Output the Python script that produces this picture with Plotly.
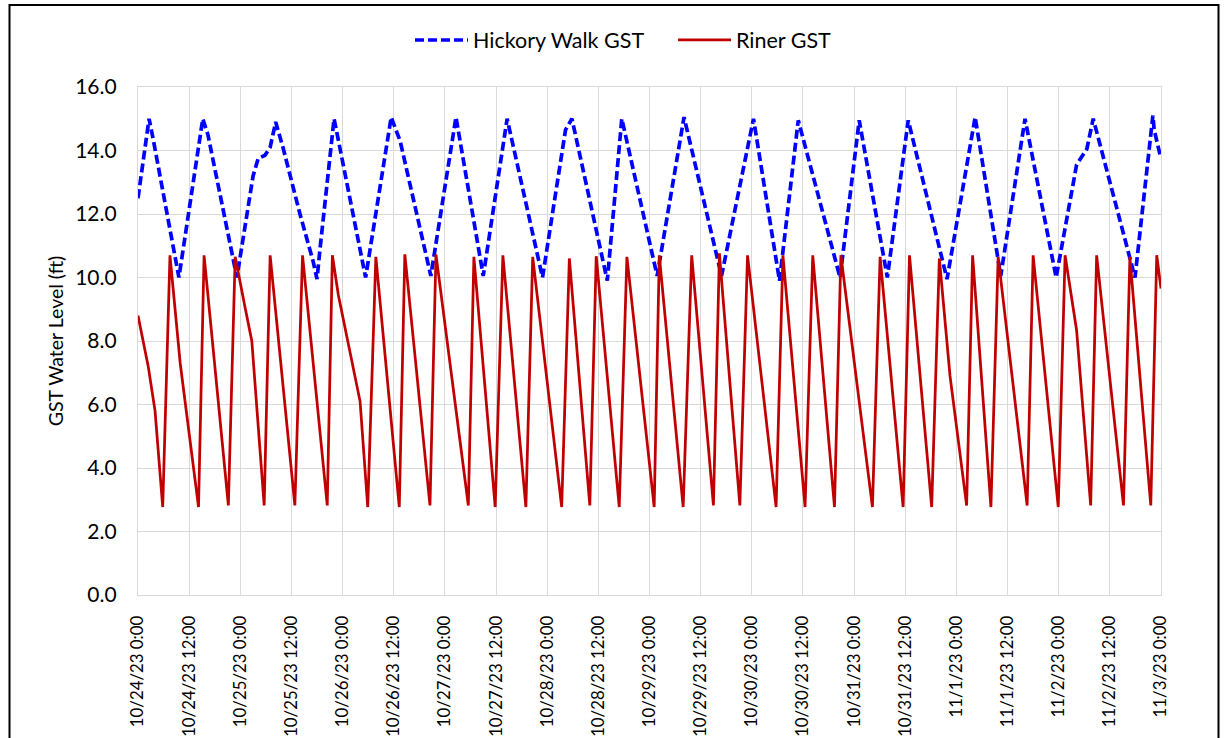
import pandas as pd
import plotly.graph_objects as go

start = pd.Timestamp("2023-10-24 00:00")

# Hickory Walk GST (hours since 10/24/23 0:00, level ft)
hickory_hours = [0, 2.6, 3.5, 9.1, 9.6, 15.2, 16.4, 23.2, 27.0, 28.2, 29.8, 31.0, 32.3, 34.0, 38.0,
                 41.1, 42.0, 42.7, 46.0, 46.6, 53.4, 59.4, 61.5, 68.7, 74.6, 81.0, 86.6, 94.9,
                 100.3, 101.8, 109.6, 110.1, 113.5, 121.8, 128.1, 136.9, 144.4, 150.5, 154.9,
                 164.7, 169.2, 175.8, 180.7, 189.8, 196.4, 202.4, 208.1, 215.4, 220.2, 221.7,
                 222.6, 224.1, 233.9, 238.1, 238.4, 239.8]
hickory_level = [12.5, 15.0, 14.4, 10.3, 10.0, 15.0, 14.5, 10.0, 13.2, 13.75, 13.85, 14.1, 14.9, 14.1, 12.0,
                 10.5, 9.95, 10.9, 15.0, 14.6, 10.0, 15.05, 14.3, 10.05, 15.05, 10.05, 15.0, 10.0,
                 14.65, 15.0, 10.3, 9.9, 15.0, 10.05, 15.05, 10.05, 15.0, 9.9, 14.95,
                 10.0, 14.95, 10.0, 14.95, 9.95, 15.05, 10.05, 15.0, 10.0, 13.55, 13.85,
                 14.05, 15.0, 10.0, 15.1, 14.65, 13.85]

# Riner GST
riner_hours = [0, 1.2, 2.4, 4.0, 5.8, 7.5, 9.9, 14.2, 15.5, 21.2, 22.8, 25.1, 26.7, 29.6, 31.0, 36.8,
               38.6, 44.4, 45.6, 47.0, 52.1, 53.9, 55.8, 61.3, 62.6, 68.5, 69.9, 77.5, 78.8, 83.8,
               85.6, 91.0, 92.6, 99.4, 101.2, 106.0, 107.5, 112.9, 114.7, 121.1, 122.3, 127.9,
               129.9, 135.0, 136.4, 141.2, 143.0, 149.7, 151.3, 156.5, 158.3, 163.4, 164.9, 172.3,
               174.1, 179.5, 181.0, 186.2, 188.0, 190.5, 194.4, 195.8, 200.1, 201.8, 208.6, 210.0,
               215.9, 217.5, 220.2, 223.5, 224.9, 231.2, 232.7, 237.6, 239.0, 240.0]
riner_level = [8.8, 8.0, 7.2, 5.8, 2.77, 10.7, 7.3, 2.77, 10.7, 2.82, 10.65, 9.07, 8.0, 2.82, 10.7, 2.82,
               10.7, 2.82, 10.7, 9.45, 6.1, 2.77, 10.65, 2.77, 10.73, 2.82, 10.73, 2.82, 10.65, 2.77,
               10.7, 2.77, 10.65, 2.77, 10.6, 2.82, 10.67, 2.77, 10.65, 2.77, 10.7, 2.77,
               10.7, 2.82, 10.76, 2.82, 10.7, 2.77, 10.7, 2.77, 10.7, 2.77, 10.7, 2.77,
               10.65, 2.77, 10.7, 2.77, 10.6, 6.9, 2.82, 10.7, 2.77, 10.65, 2.82, 10.7,
               2.77, 10.7, 8.34, 2.82, 10.7, 2.82, 10.65, 2.82, 10.7, 9.65]

y_ticks = [0, 2, 4, 6, 8, 10, 12, 14, 16]

hx = start + pd.to_timedelta(hickory_hours, unit="h")
rx = start + pd.to_timedelta(riner_hours, unit="h")

FONT = "Lato"
fig = go.Figure()
fig.add_trace(go.Scatter(x=hx, y=hickory_level, mode="lines", name="Hickory Walk GST",
                         line=dict(color="#0000FF", width=3.7, dash="9px,4px")))
fig.add_trace(go.Scatter(x=rx, y=riner_level, mode="lines", name="Riner GST",
                         line=dict(color="#C00000", width=2.75)))

L, R, T, B = 138, 1161, 87, 595
W, H = 1224, 738
pw, ph = R - L, B - T

def px_x(p):
    return (p - L) / pw

def px_y(p):
    return (B - p) / ph

fig.update_layout(
    width=W, height=H,
    margin=dict(l=L, r=W - R, t=T, b=H - B, autoexpand=False),
    paper_bgcolor="white", plot_bgcolor="white",
    font=dict(family=FONT, size=19, color="#000000"),
    showlegend=True,
    legend=dict(orientation="h", x=px_x(410), xanchor="left", y=px_y(40), yanchor="middle",
                font=dict(size=21.5), itemwidth=53, entrywidth=195, bgcolor="rgba(0,0,0,0)"),
    xaxis=dict(
        type="date",
        range=[start, start + pd.Timedelta(hours=240)],
        tick0=start, dtick=12 * 3600 * 1000,
        tickformat="%-m/%-d/%y %-H:%M",
        tickangle=-90,
        showgrid=True, gridcolor="#D9D9D9", gridwidth=1.3,
        showline=True, linecolor="#D9D9D9", linewidth=1.3, mirror=True,
        ticks="", ticklabelstandoff=13, automargin=False,
        tickfont=dict(family=FONT, size=16.8),
        zeroline=False,
    ),
    yaxis=dict(
        range=[0, 16],
        tickvals=y_ticks, tickformat=".1f",
        showgrid=True, gridcolor="#D9D9D9", gridwidth=1.3,
        showline=True, linecolor="#D9D9D9", linewidth=1.3, mirror=True,
        ticks="", ticklabelstandoff=16, automargin=False,
        tickfont=dict(family=FONT, size=21),
        title=dict(text="GST Water Level (ft)", font=dict(family=FONT, size=19.5), standoff=6),
        zeroline=False,
    ),
)

# outer chart frame
fig.add_shape(type="rect", xref="paper", yref="paper",
              x0=px_x(9.5), x1=px_x(1218.5), y0=px_y(760), y1=px_y(5),
              line=dict(color="#000000", width=2), fillcolor="rgba(0,0,0,0)", layer="above")

fig.write_html("out.html", config={"displayModeBar": False},
               post_script="document.body.style.margin='0px';")
